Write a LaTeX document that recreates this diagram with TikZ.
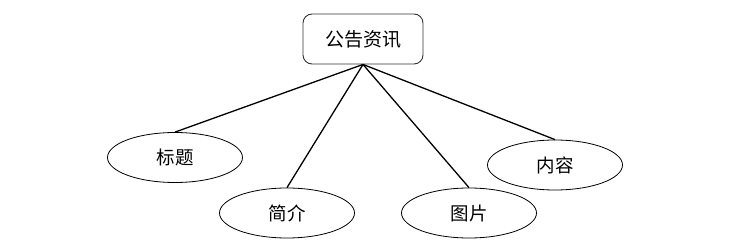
\documentclass[tikz,border=0pt]{standalone}
\usepackage{fontspec}
\newfontfamily\cjk{Noto Sans CJK SC}
\usetikzlibrary{shapes.geometric}
\begin{document}
\begin{tikzpicture}[x=1pt,y=-1pt,
  rootbox/.style={draw=black!80,line width=0.9pt,rounded corners=9pt,minimum width=120pt,minimum height=50pt,inner sep=0pt,font=\cjk\fontsize{19pt}{22pt}\selectfont},
  attr/.style={draw=black,line width=0.8pt,ellipse,minimum width=135pt,minimum height=50pt,inner sep=0pt,font=\cjk\fontsize{18.5pt}{22pt}\selectfont},
  link/.style={draw=black,line width=1.3pt}]
\useasboundingbox (0,0) rectangle (750,249);
\node[rootbox] (root) at (363,39) {公告资讯};
\node[attr] (title) at (175,157.5) {标题};
\node[attr] (intro) at (287,213) {简介};
\node[attr] (pic) at (469,213) {图片};
\node[attr] (content) at (555,165) {内容};
\draw[link] (root.south) -- (title.north);
\draw[link] (root.south) -- (intro.north);
\draw[link] (root.south) -- (pic.north);
\draw[link] (root.south) -- (content.north);
\end{tikzpicture}
\end{document}
